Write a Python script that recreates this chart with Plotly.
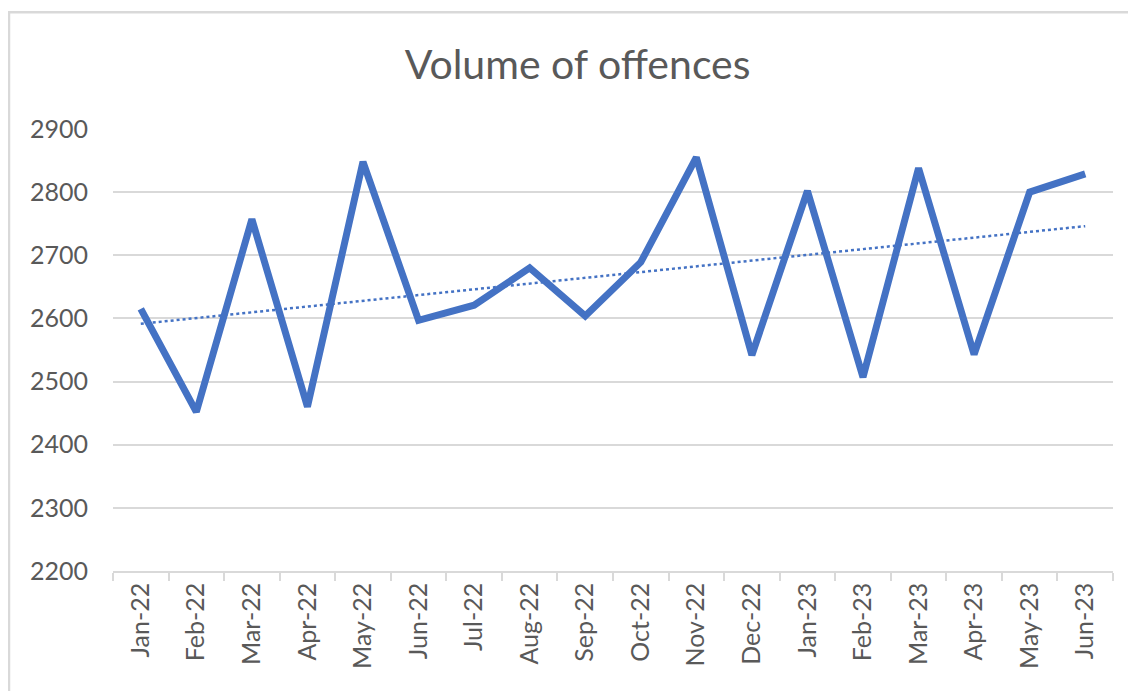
import numpy as np
import plotly.graph_objects as go

months = ["Jan-22", "Feb-22", "Mar-22", "Apr-22", "May-22", "Jun-22", "Jul-22", "Aug-22", "Sep-22",
          "Oct-22", "Nov-22", "Dec-22", "Jan-23", "Feb-23", "Mar-23", "Apr-23", "May-23", "Jun-23"]
offences = [2615, 2452, 2757, 2460, 2848, 2597, 2621, 2680, 2604,
            2689, 2855, 2542, 2802, 2507, 2838, 2543, 2800, 2829]
y_ticks = [2200, 2300, 2400, 2500, 2600, 2700, 2800, 2900]

idx = np.arange(len(offences))
slope, intercept = np.polyfit(idx, offences, 1)
trend = list(slope * idx + intercept)

BLUE = "#4472C4"
GREY = "#595959"
FONT = "Lato, 'Open Sans', sans-serif"

fig = go.Figure()
fig.add_trace(go.Scatter(x=months, y=trend, mode="lines",
                         line=dict(color=BLUE, width=2.5, dash="dot"),
                         hoverinfo="skip", showlegend=False))
fig.add_trace(go.Scatter(x=months, y=offences, mode="lines",
                         line=dict(color=BLUE, width=7),
                         showlegend=False, name="Volume of offences"))

fig.update_layout(
    width=1128, height=683,
    margin=dict(l=105, r=23, t=121, b=120),
    paper_bgcolor="white", plot_bgcolor="white",
    title=dict(text="Volume of offences", x=0.505, xanchor="center", y=0.917, yanchor="middle",
               font=dict(family=FONT, size=41, color=GREY)),
    font=dict(family=FONT, color=GREY),
    xaxis=dict(type="category", categoryorder="array", categoryarray=months,
               tickson="boundaries", ticks="outside", ticklen=8, tickcolor="#d9d9d9",
               tickwidth=1.5, showline=True, linecolor="#d9d9d9", linewidth=1.5,
               showgrid=False, tickangle=-90, tickfont=dict(family=FONT, size=25, color=GREY),
               range=[-0.5, len(months) - 0.5]),
    yaxis=dict(range=[2200, 2900], tickvals=y_ticks, showgrid=True, gridcolor="#d9d9d9",
               gridwidth=1.5, zeroline=False, showline=False, ticks="",
               tickfont=dict(family=FONT, size=25, color=GREY), ticklabelstandoff=24),
    shapes=[dict(type="rect", xref="paper", yref="paper", x0=-0.104, x1=1.2, y0=-0.5, y1=1.264,
                 line=dict(color="#d9d9d9", width=2.5), fillcolor="rgba(0,0,0,0)", layer="below")],
)

fig.write_html("out.html")
